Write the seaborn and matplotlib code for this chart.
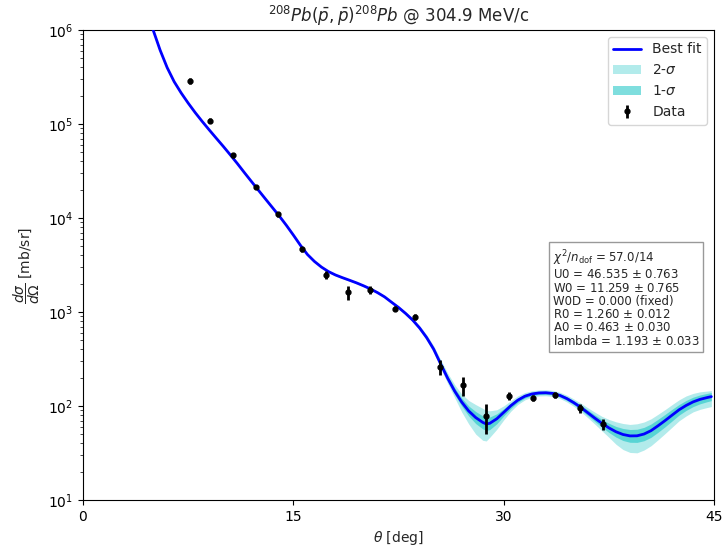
import numpy as np
import pandas as pd
import matplotlib
matplotlib.use("Agg")
import matplotlib.pyplot as plt
import seaborn as sns

# ---- data ----
theta_data = [7.63, 9.06, 10.70, 12.34, 13.91, 15.62, 17.33, 18.90, 20.47, 22.25,
              23.68, 25.46, 27.10, 28.74, 30.38, 32.10, 33.67, 35.45, 37.09]
xs_data = [2.87e5, 1.08e5, 4.68e4, 2.14e4, 1.10e4, 4.68e3, 2.48e3, 1.63e3, 1.71e3, 1.08e3,
           885, 260, 167, 78, 128, 122, 131, 95, 64]
xs_err = [2.0e4, 6.5e3, 2.8e3, 1.3e3, 660, 280, 250, 280, 170, 65,
          70, 47, 38, 27, 13, 9, 9, 10, 8]

theta_fit = [4.5, 5.0, 5.5, 6.0, 6.5, 7.0, 7.5, 8.0, 8.5, 9.0,
             9.5, 10.0, 10.5, 11.0, 11.5, 12.0, 12.5, 13.0, 13.5, 14.0,
             14.5, 15.0, 15.5, 16.0, 16.5, 17.0, 17.5, 18.0, 18.5, 19.0,
             19.5, 20.0, 20.5, 21.0, 21.5, 22.0, 22.5, 23.0, 23.5, 24.0,
             24.5, 25.0, 25.5, 26.0, 26.5, 27.0, 27.5, 28.0, 28.5, 28.75,
             29.0, 29.5, 30.0, 30.5, 31.0, 31.5, 32.0, 32.5, 33.0, 33.5,
             34.0, 34.5, 35.0, 35.5, 36.0, 36.5, 37.0, 37.5, 38.0, 38.5,
             39.0, 39.5, 40.0, 40.5, 41.0, 41.5, 42.0, 42.5, 43.0, 43.5,
             44.0, 44.5, 44.8]
# best fit, log10 of d(sigma)/d(Omega) in mb/sr
log_xs_fit = [6.23, 6.0, 5.785, 5.60, 5.45, 5.33, 5.222, 5.121, 5.027, 4.937,
              4.849, 4.762, 4.672, 4.58, 4.484, 4.39, 4.297, 4.204, 4.112, 4.02,
              3.922, 3.818, 3.71, 3.612, 3.538, 3.478, 3.43, 3.394, 3.365, 3.338,
              3.31, 3.279, 3.245, 3.206, 3.161, 3.104, 3.048, 2.985, 2.915, 2.83,
              2.728, 2.605, 2.448, 2.295, 2.158, 2.042, 1.947, 1.877, 1.826, 1.809,
              1.816, 1.864, 1.933, 2.003, 2.062, 2.104, 2.128, 2.139, 2.141, 2.134,
              2.113, 2.079, 2.035, 1.984, 1.927, 1.87, 1.816, 1.767, 1.726, 1.697,
              1.682, 1.683, 1.702, 1.738, 1.79, 1.845, 1.903, 1.96, 2.006, 2.044,
              2.071, 2.09, 2.1]
# band half-widths in decades
sig2_up = [0] * 20 + [
    0, 0, 0, 0.003, 0.005, 0.007, 0.010, 0.011, 0.011, 0.011,
    0.011, 0.011, 0.011, 0.011, 0.012, 0.013, 0.015, 0.017, 0.020, 0.024,
    0.030, 0.036, 0.045, 0.055, 0.069, 0.085, 0.112, 0.138, 0.149, 0.144,
    0.133, 0.096, 0.069, 0.053, 0.046, 0.039, 0.034, 0.032, 0.032, 0.032,
    0.033, 0.036, 0.039, 0.045, 0.053, 0.064, 0.074, 0.090, 0.106, 0.117,
    0.122, 0.128, 0.128, 0.126, 0.122, 0.117, 0.112, 0.106, 0.101, 0.090,
    0.080, 0.069, 0.064]
sig2_dn = [0] * 20 + [
    0, 0, 0, 0.003, 0.005, 0.007, 0.010, 0.011, 0.011, 0.011,
    0.011, 0.011, 0.011, 0.011, 0.012, 0.013, 0.015, 0.017, 0.020, 0.024,
    0.030, 0.036, 0.045, 0.055, 0.069, 0.106, 0.138, 0.176, 0.191, 0.181,
    0.149, 0.112, 0.080, 0.059, 0.046, 0.039, 0.034, 0.032, 0.032, 0.032,
    0.033, 0.036, 0.039, 0.045, 0.053, 0.064, 0.080, 0.101, 0.133, 0.160,
    0.176, 0.181, 0.170, 0.160, 0.149, 0.138, 0.128, 0.117, 0.112, 0.106,
    0.106, 0.106, 0.106]
sig1 = [0] * 20 + [
    0, 0, 0, 0.003, 0.005, 0.005, 0.005, 0.005, 0.005, 0.005,
    0.005, 0.005, 0.005, 0.005, 0.006, 0.007, 0.008, 0.009, 0.011, 0.013,
    0.015, 0.018, 0.022, 0.028, 0.034, 0.043, 0.053, 0.064, 0.069, 0.069,
    0.067, 0.053, 0.038, 0.029, 0.023, 0.020, 0.017, 0.017, 0.017, 0.017,
    0.017, 0.019, 0.021, 0.024, 0.030, 0.035, 0.041, 0.049, 0.057, 0.064,
    0.068, 0.070, 0.071, 0.071, 0.069, 0.066, 0.062, 0.056, 0.053, 0.050,
    0.047, 0.044, 0.043]

fit_text = ("$\\chi^2/n_{\\rm dof}$ = 57.0/14\n"
            "U0 = 46.535 $\\pm$ 0.763\n"
            "W0 = 11.259 $\\pm$ 0.765\n"
            "W0D = 0.000 (fixed)\n"
            "R0 = 1.260 $\\pm$ 0.012\n"
            "A0 = 0.463 $\\pm$ 0.030\n"
            "lambda = 1.193 $\\pm$ 0.033")

# ---- plotting ----
sns.set_style("ticks")
plt.rcParams['font.family'] = ['DejaVu Sans']
plt.rcParams['mathtext.fontset'] = 'dejavusans'

fig = plt.figure(figsize=(7.28, 5.53), dpi=100)
ax = fig.add_axes([0.114, 0.0958, 0.867, 0.850])

lx = np.array(log_xs_fit)
fit = pd.DataFrame({"theta": theta_fit, "xs": 10 ** lx})
s2u, s2d, s1 = np.array(sig2_up), np.array(sig2_dn), np.array(sig1)

ax.fill_between(fit["theta"], 10 ** (lx - s2d), 10 ** (lx + s2u),
                color="c", alpha=0.3, lw=0, label="2-$\\sigma$", zorder=1)
ax.fill_between(fit["theta"], 10 ** (lx - s1), 10 ** (lx + s1),
                color="c", alpha=0.5, lw=0, label="1-$\\sigma$", zorder=2)
sns.lineplot(data=fit, x="theta", y="xs", ax=ax, color="b", lw=2,
             label="Best fit", zorder=3)
ax.errorbar(theta_data, xs_data, yerr=xs_err, fmt="o", color="k",
            ms=3.5, elinewidth=2, capsize=0, label="Data", zorder=4)

ax.set_yscale("log")
ax.set_xlim(0, 45)
ax.set_ylim(10, 1e6)
ax.set_xticks([0, 15, 30, 45])
ax.set_xlabel("$\\theta$ [deg]", fontsize=10)
ax.set_ylabel("$\\dfrac{d\\sigma}{d\\Omega}$ [mb/sr]", fontsize=10)
ax.set_title("$^{208}Pb(\\bar{p},\\bar{p})^{208}Pb$ @ 304.9 MeV/c", fontsize=12)
for s in ax.spines.values():
    s.set_color("k")
ax.tick_params(colors="k", labelsize=10)

h, l = ax.get_legend_handles_labels()
order = ["Best fit", "2-$\\sigma$", "1-$\\sigma$", "Data"]
hd = dict(zip(l, h))
ax.legend([hd[k] for k in order], order, loc="upper right", fontsize=10,
          frameon=True)

ax.text(0.744, 0.535, fit_text, transform=ax.transAxes, fontsize=8.5,
        ha="left", va="top", linespacing=1.02,
        bbox=dict(boxstyle="square,pad=0.3", fc="white", ec="0.6"))

fig.savefig("out.png", dpi=100)
